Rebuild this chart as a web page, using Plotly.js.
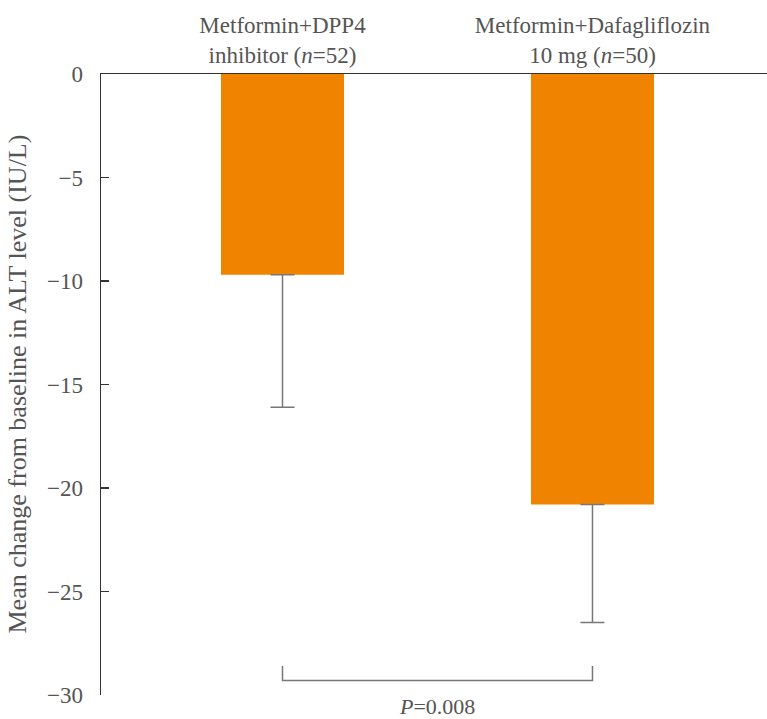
<!DOCTYPE html>
<html>
<head>
<meta charset="utf-8">
<script src="https://cdn.plot.ly/plotly-3.0.1.min.js"></script>
<style>html,body{margin:0;padding:0;background:#fff;}#chart{width:767px;height:719px;}</style>
</head>
<body>
<div id="chart"></div>
<script>
const categories = ["Metformin+DPP4<br>inhibitor (<i>n</i>=52)", "Metformin+Dafagliflozin<br>10 mg (<i>n</i>=50)"];
const meanChange = [-9.7, -20.8];
const errorMinus = [6.4, 5.7];
const yTicks = [0, -5, -10, -15, -20, -25, -30];
const yTitle = "Mean change from baseline in ALT level (IU/L)";
const pLabel = "<i>P</i>=0.008";
const bracketLevel = -29.3;
const bracketTick = 0.7;

const FONT = "Liberation Serif";
const TEXT = "#555555";

const trace = {
  type: "bar",
  x: [0, 1],
  y: meanChange,
  width: 0.397,
  marker: {color: "#F08400", line: {width: 0}},
  error_y: {type: "data", symmetric: false, array: [0, 0], arrayminus: errorMinus,
            color: "#777777", thickness: 1.5, width: 12},
  hoverinfo: "skip"
};

const layout = {
  width: 767, height: 719,
  margin: {l: 101, r: 0, t: 74, b: 24},
  paper_bgcolor: "#fff", plot_bgcolor: "#fff",
  showlegend: false,
  font: {family: FONT, color: TEXT, size: 23},
  xaxis: {
    side: "top", range: [-0.5855, 1.563],
    tickvals: [0, 1], ticktext: categories,
    showline: true, linecolor: "#333333", linewidth: 1.5,
    ticks: "", showgrid: false, zeroline: false,
    tickfont: {family: FONT, color: TEXT, size: 23},
    fixedrange: true
  },
  yaxis: {
    range: [-30, 0], tickvals: yTicks,
    ticks: "inside", ticklen: 8, tickcolor: "#333333", tickwidth: 1.5,
    showline: true, linecolor: "#333333", linewidth: 1.5,
    showgrid: false, zeroline: false,
    ticklabelstandoff: 12,
    tickfont: {family: FONT, color: TEXT, size: 23},
    fixedrange: true
  },
  shapes: [{
    type: "path", xref: "x", yref: "y",
    path: `M 0 ${bracketLevel + bracketTick} L 0 ${bracketLevel} L 1 ${bracketLevel} L 1 ${bracketLevel + bracketTick}`,
    line: {color: "#777777", width: 1.5}
  }],
  annotations: [{
    x: 0.5, xref: "x", y: 0, yref: "paper", yanchor: "middle", yshift: -11,
    text: pLabel, showarrow: false, borderpad: 0,
    font: {family: FONT, color: TEXT, size: 22}
  }, {
    x: 0, xref: "paper", xshift: -84, y: 0.5, yref: "paper",
    xanchor: "center", yanchor: "middle", textangle: -90,
    text: yTitle, showarrow: false, borderpad: 0,
    font: {family: FONT, color: TEXT, size: 26}
  }]
};

Plotly.newPlot("chart", [trace], layout, {displayModeBar: false, staticPlot: true});
</script>
</body>
</html>
